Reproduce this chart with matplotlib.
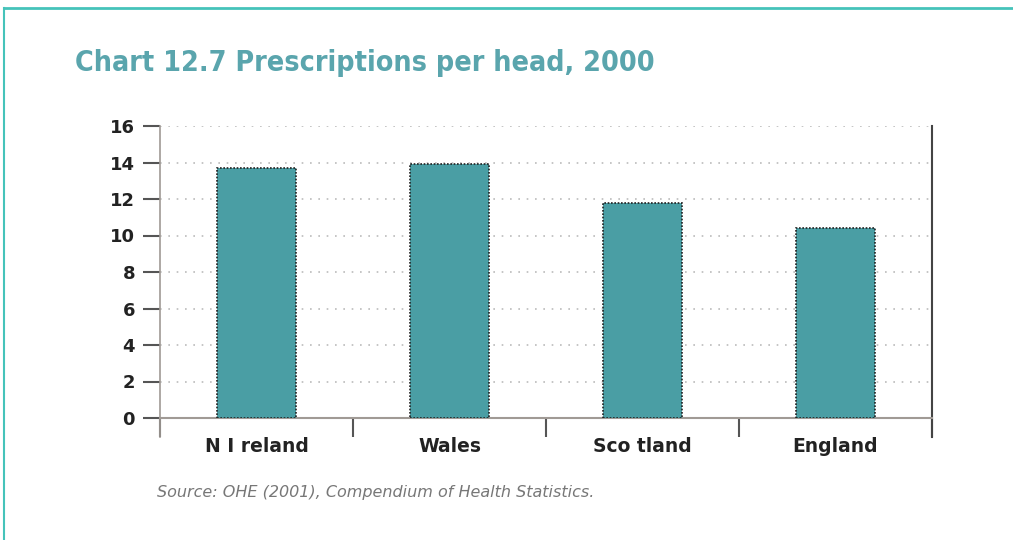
import matplotlib
matplotlib.use("Agg")
import matplotlib.pyplot as plt
from matplotlib.lines import Line2D
from matplotlib import font_manager

categories = ["N I reland", "Wales", "Sco tland", "England"]
values = [13.7, 13.9, 11.8, 10.4]
yticks = [0, 2, 4, 6, 8, 10, 12, 14, 16]

# look for a condensed bold face, if any is installed
cond = None
for f in font_manager.fontManager.ttflist:
    if str(f.stretch) in ("condensed", "semi-condensed", "extra-condensed", "600", "500") or "Narrow" in f.name or "Condensed" in f.name:
        cond = f
        break

fig = plt.figure(figsize=(10.13, 5.40), dpi=100)
ax = fig.add_axes([160/1013, 1-418/540, (932-160)/1013, (418-126)/540])

x = [i + 0.5 for i in range(len(categories))]
ax.bar(x, values, width=0.41, color="#4a9ea4", edgecolor="#222222",
       linewidth=1.2, linestyle=(0, (1, 1)), zorder=3)

ax.set_xlim(0, 4)
ax.set_ylim(0, 16)
ax.set_yticks(yticks)
ax.set_yticklabels([str(v) for v in yticks], fontsize=13,
                   fontweight="bold", color="#222222")
ax.set_xticks([0, 1, 2, 3, 4])
ax.set_xticklabels([])
ax.set_xticks(x, minor=True)
ax.set_xticklabels(categories, minor=True, fontsize=13.5,
                   fontweight="bold", color="#222222")
ax.tick_params(axis="x", which="major", direction="out", length=14, width=1.5, color="#555555")
ax.tick_params(axis="x", which="minor", length=0, pad=14)
ax.tick_params(axis="y", direction="out", length=12, width=1.5, color="#555555", pad=6)

ax.yaxis.grid(True, color="#bbbbbb", linestyle=(0, (1, 4)), linewidth=1.2, zorder=0)
ax.spines["top"].set_visible(False)
ax.spines["right"].set_color("#444444")
ax.spines["right"].set_linewidth(1.5)
ax.spines["right"].set_bounds(-1.05, 16)
ax.spines["left"].set_color("#a09a95")
ax.spines["left"].set_linestyle((0, (1, 1)))
ax.spines["left"].set_linewidth(1.2)
ax.spines["left"].set_bounds(-1.05, 16)
ax.spines["bottom"].set_color("#a09a95")
ax.spines["bottom"].set_linestyle((0, (2, 1)))
ax.spines["bottom"].set_linewidth(1.5)

title = "Chart 12.7 Prescriptions per head, 2000"
if cond is not None:
    t = fig.text(75/1013, 1-63/540, title, fontsize=24,
                 fontproperties=font_manager.FontProperties(fname=cond.fname, size=24, weight="bold"),
                 color="#5aa5ad", va="center", ha="left")
else:
    t = fig.text(75/1013, 1-63/540, title, fontsize=24, fontweight="bold",
                 color="#5aa5ad", va="center", ha="left")
# fit the title to the reference width (about 580 px)
fig.canvas.draw()
w = t.get_window_extent().width
t.set_fontsize(t.get_fontsize() * 580.0 / w)

fig.text(157/1013, 1-492/540, "Source: OHE (2001), Compendium of Health Statistics.",
         fontsize=11.5, style="italic", color="#777777", va="center", ha="left")

frame_color = "#45c3ba"
fig.add_artist(Line2D([4/1013, 1], [1-7.5/540, 1-7.5/540], color=frame_color, linewidth=2,
                      transform=fig.transFigure))
fig.add_artist(Line2D([4/1013, 4/1013], [0, 1-7.5/540], color=frame_color, linewidth=1.5,
                      transform=fig.transFigure))

fig.savefig("out.png", dpi=100)
